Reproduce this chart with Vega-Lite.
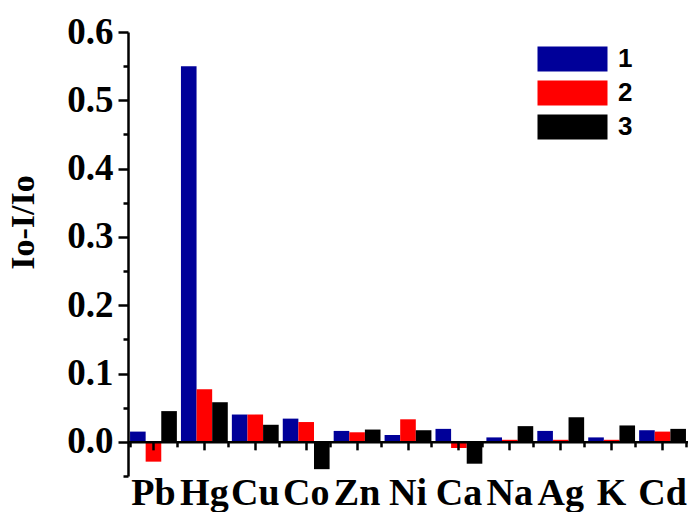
{
  "$schema": "https://vega.github.io/schema/vega-lite/v6.json",
  "autosize": "none",
  "width": 560,
  "height": 444,
  "padding": {"left": 128, "top": 32, "right": 0, "bottom": 36},
  "background": "white",
  "config": {"view": {"stroke": null}},
  "data": {"values": [
    {"element": "Pb", "series": "1", "value": 0.015},
    {"element": "Pb", "series": "2", "value": -0.029},
    {"element": "Pb", "series": "3", "value": 0.045},
    {"element": "Hg", "series": "1", "value": 0.55},
    {"element": "Hg", "series": "2", "value": 0.077},
    {"element": "Hg", "series": "3", "value": 0.058},
    {"element": "Cu", "series": "1", "value": 0.04},
    {"element": "Cu", "series": "2", "value": 0.04},
    {"element": "Cu", "series": "3", "value": 0.025},
    {"element": "Co", "series": "1", "value": 0.034},
    {"element": "Co", "series": "2", "value": 0.029},
    {"element": "Co", "series": "3", "value": -0.04},
    {"element": "Zn", "series": "1", "value": 0.016},
    {"element": "Zn", "series": "2", "value": 0.014},
    {"element": "Zn", "series": "3", "value": 0.018},
    {"element": "Ni", "series": "1", "value": 0.01},
    {"element": "Ni", "series": "2", "value": 0.033},
    {"element": "Ni", "series": "3", "value": 0.017},
    {"element": "Ca", "series": "1", "value": 0.019},
    {"element": "Ca", "series": "2", "value": -0.009},
    {"element": "Ca", "series": "3", "value": -0.032},
    {"element": "Na", "series": "1", "value": 0.0065},
    {"element": "Na", "series": "2", "value": 0.003},
    {"element": "Na", "series": "3", "value": 0.023},
    {"element": "Ag", "series": "1", "value": 0.016},
    {"element": "Ag", "series": "2", "value": 0.003},
    {"element": "Ag", "series": "3", "value": 0.036},
    {"element": "K", "series": "1", "value": 0.0065},
    {"element": "K", "series": "2", "value": 0.003},
    {"element": "K", "series": "3", "value": 0.024},
    {"element": "Cd", "series": "1", "value": 0.017},
    {"element": "Cd", "series": "2", "value": 0.015},
    {"element": "Cd", "series": "3", "value": 0.019}
  ]},
  "layer": [
    {
      "mark": {"type": "bar"},
      "encoding": {
        "x": {
          "field": "element", "type": "nominal", "sort": null,
          "scale": {"paddingInner": 0.08, "paddingOuter": 0.04},
          "axis": {
            "orient": "bottom", "offset": -34.15, "title": null, "zindex": 1,
            "domainColor": "black", "domainWidth": 2.5,
            "tickColor": "black", "tickWidth": 2.5, "tickSize": 8,
            "labelAngle": 0, "labelFont": "Liberation Serif", "labelFontWeight": "bold",
            "labelFontSize": 38, "labelColor": "black", "labelBaseline": "alphabetic",
            "labelPadding": 55
          }
        },
        "xOffset": {"field": "series", "type": "nominal"},
        "y": {
          "field": "value", "type": "quantitative",
          "scale": {"domain": [-0.05, 0.6], "nice": false, "zero": false},
          "axis": {
            "title": "Io-I/Io", "grid": false,
            "values": [-0.05, 0, 0.05, 0.1, 0.15, 0.2, 0.25, 0.3, 0.35, 0.4, 0.45, 0.5, 0.55, 0.6],
            "labelExpr": "abs(round(datum.value*100)%10) == 0 ? format(datum.value, '.1f') : ''",
            "tickSize": {"condition": {"test": "abs(round(datum.value*100)%10) != 0", "value": 5}, "value": 10},
            "domainColor": "black", "domainWidth": 2.5,
            "tickColor": "black", "tickWidth": 2.5,
            "labelFont": "Liberation Serif", "labelFontWeight": "bold", "labelFontSize": 37,
            "labelColor": "black", "labelPadding": 5, "labelOverlap": false, "labelFlush": false,
            "titleFont": "Liberation Serif", "titleFontWeight": "bold", "titleFontSize": 34,
            "titleColor": "black", "titleX": -105, "titleY": 190, "titleAlign": "center",
            "titleBaseline": "middle", "titleAngle": -90
          }
        },
        "color": {
          "field": "series", "type": "nominal",
          "scale": {"domain": ["1", "2", "3"], "range": ["#000099", "#FF0000", "#000000"]},
          "legend": {
            "orient": "none", "legendX": 431.5, "legendY": 14, "title": null,
            "symbolType": "M-2.8,-1H2.8V1H-2.8Z", "symbolSize": 625,
            "symbolStrokeWidth": 0, "symbolOpacity": 1,
            "labelFont": "Liberation Sans", "labelFontWeight": "bold", "labelFontSize": 26,
            "labelColor": "black", "labelOffset": 32.5, "rowPadding": 8, "padding": 0
          }
        }
      }
    },
    {
      "mark": {"type": "bar", "opacity": 0},
      "encoding": {
        "x": {
          "field": "element", "type": "nominal", "sort": null,
          "axis": {
            "orient": "bottom", "offset": -34.15, "title": null, "zindex": 1,
            "tickBand": "extent", "domain": false, "labels": false,
            "tickColor": "black", "tickWidth": 2.5, "tickSize": 5
          }
        }
      }
    }
  ],
  "resolve": {"axis": {"x": "independent"}}
}
